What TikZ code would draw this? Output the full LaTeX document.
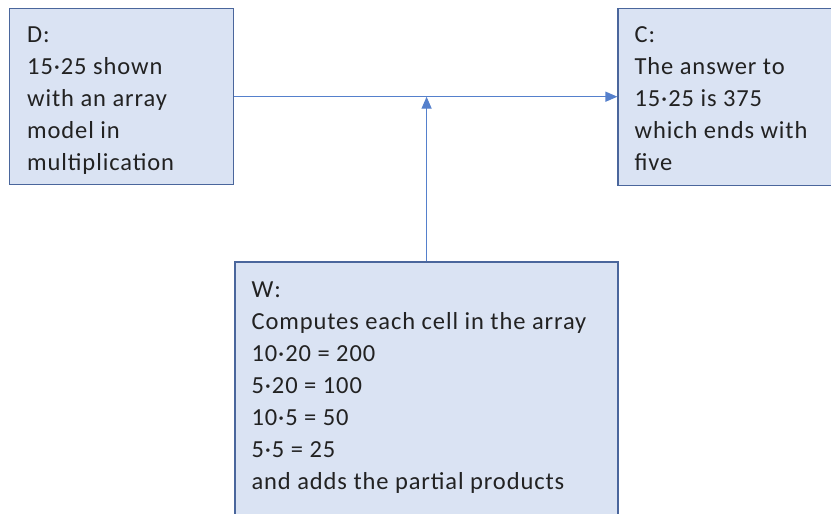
\documentclass[tikz,border=0pt]{standalone}
\usepackage{fontspec}
\setmainfont[LetterSpace=3.7]{Carlito}
\usetikzlibrary{positioning}
\usetikzlibrary{arrows.meta}
\definecolor{boxfill}{HTML}{DAE3F3}
\definecolor{boxline}{HTML}{4A669C}
\definecolor{arrowblue}{HTML}{5580CC}
\definecolor{txtgray}{HTML}{222222}
\tikzstyle{box}=[rectangle,draw=boxline,line width=1.4pt,fill=boxfill,inner sep=0pt]
\tikzstyle{boxtext}=[inner sep=0pt,align=left,anchor=north west,text=txtgray,font=\fontsize{24.5}{32}\selectfont]
\tikzstyle{link}=[draw=arrowblue,line width=1.4pt,-{Triangle[length=12pt,width=10pt]}]

\begin{document}
\begin{tikzpicture}[x=1pt,y=-1pt]
				
				\useasboundingbox (0,0) rectangle (831,514);
				
				% the three boxes
				\node [box, minimum width=224pt, minimum height=176pt, anchor=north west] (boxD) at (9,8) {};
				\node [box, minimum width=224pt, minimum height=177pt, right = 383pt of boxD] (boxC) {};
				\node [box, minimum width=383pt, minimum height=270pt, below right = 76pt and 0pt of boxD] (boxW) {};
				
				% their texts
				\node [boxtext] (textD) at ([xshift=18pt,yshift=-19pt]boxD.north west) {D:\\15·25 shown\\with an array\\model in\\multiplication};
				\node [boxtext] (textC) at ([xshift=17pt,yshift=-19pt]boxC.north west) {C:\\The answer to\\15·25 is 375\\which ends with\\five};
				\node [boxtext] (textW) at ([xshift=17pt,yshift=-20pt]boxW.north west) {W:\\Computes each cell in the array\\10·20 = 200\\5·20 = 100\\10·5 = 50\\5·5 = 25\\and adds the partial products};
				
				% arrows
				\draw [link] (boxD.east) -- (boxD.east -| boxC.west);
				\draw [link] (boxW.north) -- (boxW.north |- boxD.east);
				
\end{tikzpicture}
\end{document}
